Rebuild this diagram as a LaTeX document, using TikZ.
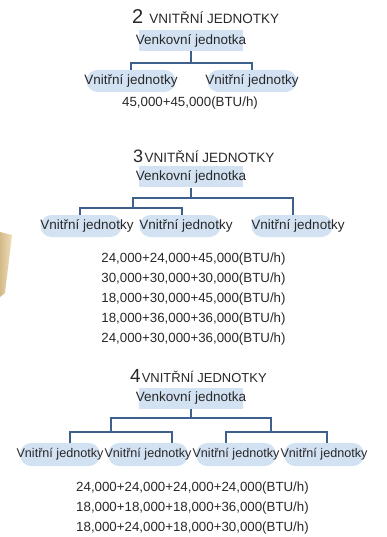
\documentclass[tikz,border=0pt]{standalone}
\usepackage{fontspec}
\setmainfont{Liberation Sans}
\definecolor{boxblue}{RGB}{211,226,243}
\definecolor{linkblue}{RGB}{62,96,140}
\definecolor{txtgray}{RGB}{40,40,40}
\definecolor{beigeA}{RGB}{212,186,136}
\definecolor{beigeB}{RGB}{238,222,186}
\tikzset{
  title/.style={anchor=base west, inner sep=0pt, text=txtgray},
  outdoor/.style={fill=boxblue, inner xsep=-3.5pt, inner ysep=0pt, minimum height=21pt, text=txtgray, font=\fontsize{13.5}{15}\selectfont},
  unit/.style={fill=boxblue, rounded corners=11pt, inner xsep=-2pt, inner ysep=0pt, minimum height=22pt, text=txtgray, font=\fontsize{13.5}{15}\selectfont},
  unitR/.style={unit, inner xsep=-12pt, execute at begin node={\hspace*{12pt}}},
  unitS/.style={unit, inner xsep=-3.5pt, minimum height=23pt, font=\fontsize{12.6}{14}\selectfont},
  btu/.style={anchor=base, inner sep=0pt, text=txtgray, font=\fontsize{13.3}{15}\selectfont},
  link/.style={draw=linkblue, line width=1.1pt},
}
\begin{document}
\begin{tikzpicture}[x=1pt, y=-1pt]
  \useasboundingbox (0,0) rectangle (386,537);

  % beige corner on the left
  \shade[left color=beigeA, right color=beigeB] (0,232) -- (12,235) -- (5,293) -- (0,297) -- cycle;

  % 2 units
  \node[title] (t1) at (132,24) {\fontsize{20}{20}\selectfont 2\hspace{6pt}\fontsize{13.5}{15}\selectfont VNITŘNÍ JEDNOTKY};
  \node[outdoor] (o1) at (191,40.5) {Venkovní jednotka};
  \node[unit] (u11) at (131,81) {Vnitřní jednotky};
  \node[unit] (u12) at (252,81) {Vnitřní jednotky};
  \coordinate (j1) at (191,63);
  \draw[link] (o1.south) -- (j1) -| (u11.north);
  \draw[link] (j1) -| (u12.north);
  \node[btu] (n1) at (190,107) {45,000+45,000(BTU/h)};

  % 3 units
  \node[title] (t2) at (133,163) {\fontsize{18}{18}\selectfont 3\hspace{1.5pt}\fontsize{13.5}{15}\selectfont VNITŘNÍ JEDNOTKY};
  \node[outdoor] (o2) at (191,177) {Venkovní jednotka};
  \node[unitR] (u21) at (81,226) {Vnitřní jednotky};
  \node[unitR] (u22) at (180,226) {Vnitřní jednotky};
  \node[unitR] (u23) at (292,226) {Vnitřní jednotky};
  \coordinate (j2) at (191,198);
  \coordinate (j2a) at (133,208);
  \coordinate (d21) at (80,208);
  \coordinate (d22) at (182,208);
  \coordinate (d23) at (293,198);
  \draw[link] (o2.south) -- (j2) -| (j2a);
  \draw[link] (j2) -- (d23) -- (d23 |- u23.north);
  \draw[link] (j2a) -- (d21) -- (d21 |- u21.north);
  \draw[link] (j2a) -- (d22) -- (d22 |- u22.north);
  \node[btu] (n21) at (193.5,262) {24,000+24,000+45,000(BTU/h)};
  \node[btu] (n22) at (193.5,282) {30,000+30,000+30,000(BTU/h)};
  \node[btu] (n23) at (193.5,302) {18,000+30,000+45,000(BTU/h)};
  \node[btu] (n24) at (193.5,322) {18,000+36,000+36,000(BTU/h)};
  \node[btu] (n25) at (193.5,342) {24,000+30,000+36,000(BTU/h)};

  % 4 units
  \node[title] (t3) at (130,382) {\fontsize{19}{19}\selectfont 4\hspace{1pt}\fontsize{13}{15}\selectfont VNITŘNÍ JEDNOTKY};
  \node[outdoor] (o3) at (191,398) {Venkovní jednotka};
  \node[unitS] (u31) at (60,454.5) {Vnitřní jednotky};
  \node[unitS] (u32) at (148,454.5) {Vnitřní jednotky};
  \node[unitS] (u33) at (236,454.5) {Vnitřní jednotky};
  \node[unitS] (u34) at (324,454.5) {Vnitřní jednotky};
  \coordinate (j3) at (191,418);
  \coordinate (j3a) at (111,432);
  \coordinate (j3b) at (271,432);
  \coordinate (d31) at (70,432);
  \coordinate (d32) at (172,432);
  \coordinate (d33) at (226,432);
  \coordinate (d34) at (327,432);
  \draw[link] (o3.south) -- (j3) -| (j3a);
  \draw[link] (j3) -| (j3b);
  \draw[link] (j3a) -- (d31) -- (d31 |- u31.north);
  \draw[link] (j3a) -- (d32) -- (d32 |- u32.north);
  \draw[link] (j3b) -- (d33) -- (d33 |- u33.north);
  \draw[link] (j3b) -- (d34) -- (d34 |- u34.north);
  \node[btu] (n31) at (192.5,491) {24,000+24,000+24,000+24,000(BTU/h)};
  \node[btu] (n32) at (192.5,511) {18,000+18,000+18,000+36,000(BTU/h)};
  \node[btu] (n33) at (192.5,531) {18,000+24,000+18,000+30,000(BTU/h)};
\end{tikzpicture}
\end{document}
